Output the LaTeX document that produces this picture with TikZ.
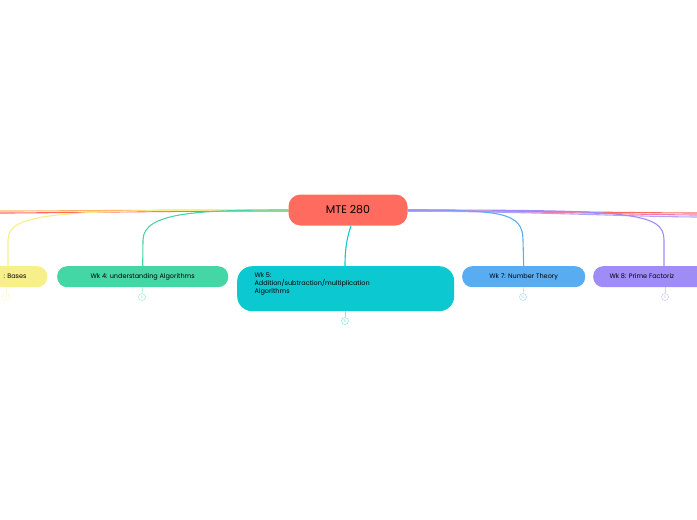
\documentclass[tikz,border=0pt]{standalone}
\usepackage{fontspec}
\setmainfont{Poppins}
\usetikzlibrary{positioning}
\definecolor{rootred}{HTML}{FF6B5E}
\definecolor{wkyellow}{HTML}{F7F08A}
\definecolor{wkgreen}{HTML}{45D6A6}
\definecolor{wkcyan}{HTML}{0BC8D1}
\definecolor{wkblue}{HTML}{58ADF2}
\definecolor{wkpurple}{HTML}{A08CF7}
\definecolor{wkpink}{HTML}{F27BB0}
\definecolor{wkorange}{HTML}{FFB36B}
\tikzset{
  topic/.style = {rounded corners=10pt, inner sep=0pt, font=\fontsize{6.5}{8}\selectfont, anchor=north west},
  badge/.style = {circle, draw=#1!45, line width=0.6pt, minimum size=7pt, inner sep=0pt, font=\fontsize{3.5}{4}\selectfont, text=#1!60},
  branch/.style = {draw=#1, line width=1.1pt}
}
\begin{document}
\begin{tikzpicture}[x=1pt, y=-1pt]
    \useasboundingbox (0,0) rectangle (697,520);
    \clip (0,0) rectangle (697,520);
    % off-page branches
    \coordinate (L1) at (-5,213);
    \coordinate (L2) at (-5,211);
    \coordinate (R1) at (702,213);
    \coordinate (R2) at (702,215);
    \coordinate (R3) at (702,217);
    \draw [branch=rootred] (289,211) .. controls (150,211) and (60,213) .. (L1);
    \draw [branch=wkorange] (289,210) .. controls (150,210) and (60,211) .. (L2);
    \draw [branch=rootred] (408,211) .. controls (550,211) and (640,213) .. (R1);
    \draw [branch=wkpink] (408,211) .. controls (550,211) and (640,215) .. (R2);
    \draw [branch=wkpurple!80] (408,211) .. controls (550,212) and (640,217) .. (R3);

    % topics
    \node [topic, fill=wkyellow, minimum width=80pt, minimum height=21pt] (bases) at (-33,266) {};
    \node [font=\fontsize{6.5}{8}\selectfont, anchor=east] at (30,276.5) {: Bases};
    \node [topic, fill=wkgreen, minimum width=171pt, minimum height=21pt] (wkfour) at (57,266) {};
    \node [font=\fontsize{6.5}{8}\selectfont] at (wkfour) {Wk 4: understanding Algorithms};
    \node [topic, fill=wkcyan, minimum width=217pt, minimum height=45pt, rounded corners=15pt] (wkfive) at (237,266) {};
    \node [font=\fontsize{6.5}{8}\selectfont, align=left, anchor=north west] at (251,269) {Wk 5:\\Addition/subtraction/multiplication\\Algorithms};
    \node [topic, fill=wkblue, minimum width=123pt, minimum height=21pt] (wkseven) at (462,266) {};
    \node [font=\fontsize{6.5}{8}\selectfont] at (wkseven) {Wk 7: Number Theory};
    \node [topic, fill=wkpurple, minimum width=130pt, minimum height=21pt] (wkeight) at (593,266) {};
    \node [font=\fontsize{6.5}{8}\selectfont, anchor=west] at (606,276.5) {Wk 8: Prime Factoriz};

    % root
    \node [fill=rootred, rounded corners=12pt, minimum width=119pt, minimum height=31pt, font=\fontsize{11}{13}\selectfont] (root) at (348,210) {MTE 280};

    % branches to topics
    \draw [branch=wkyellow] (root.west) .. controls (60,210) and (8,212) .. (8,240) -- (8,266);
    \draw [branch=wkgreen] (root.west) .. controls (200,210) and (143,212) .. (143,240) -- (wkfour.north);
    \draw [branch=wkcyan] (root.south) ++(3,0) .. controls (348,235) and (345,245) .. (345,266);
    \draw [branch=wkblue] (root.east) .. controls (500,210) and (523,212) .. (523,240) -- (wkseven.north);
    \draw [branch=wkpurple] (root.east) .. controls (630,210) and (664,212) .. (664,240) -- (664,266);

    % counters
    \node [badge=wkyellow] (nbases) at (6,297) {4};
    \node [badge=wkgreen] (nfour) at (142,297) {6};
    \node [badge=wkcyan] (nfive) at (345,321) {5};
    \node [badge=wkblue] (nseven) at (523,297) {10};
    \node [badge=wkpurple] (neight) at (665,297) {5};
    \draw [wkyellow!45, line width=0.6pt] (6,287) -- (nbases);
    \draw [wkgreen!45, line width=0.6pt] (wkfour.south) -- (nfour);
    \draw [wkcyan!45, line width=0.6pt] (345,311) -- (nfive);
    \draw [wkblue!45, line width=0.6pt] (wkseven.south) -- (nseven);
    \draw [wkpurple!45, line width=0.6pt] (665,287) -- (neight);
\end{tikzpicture}
\end{document}
